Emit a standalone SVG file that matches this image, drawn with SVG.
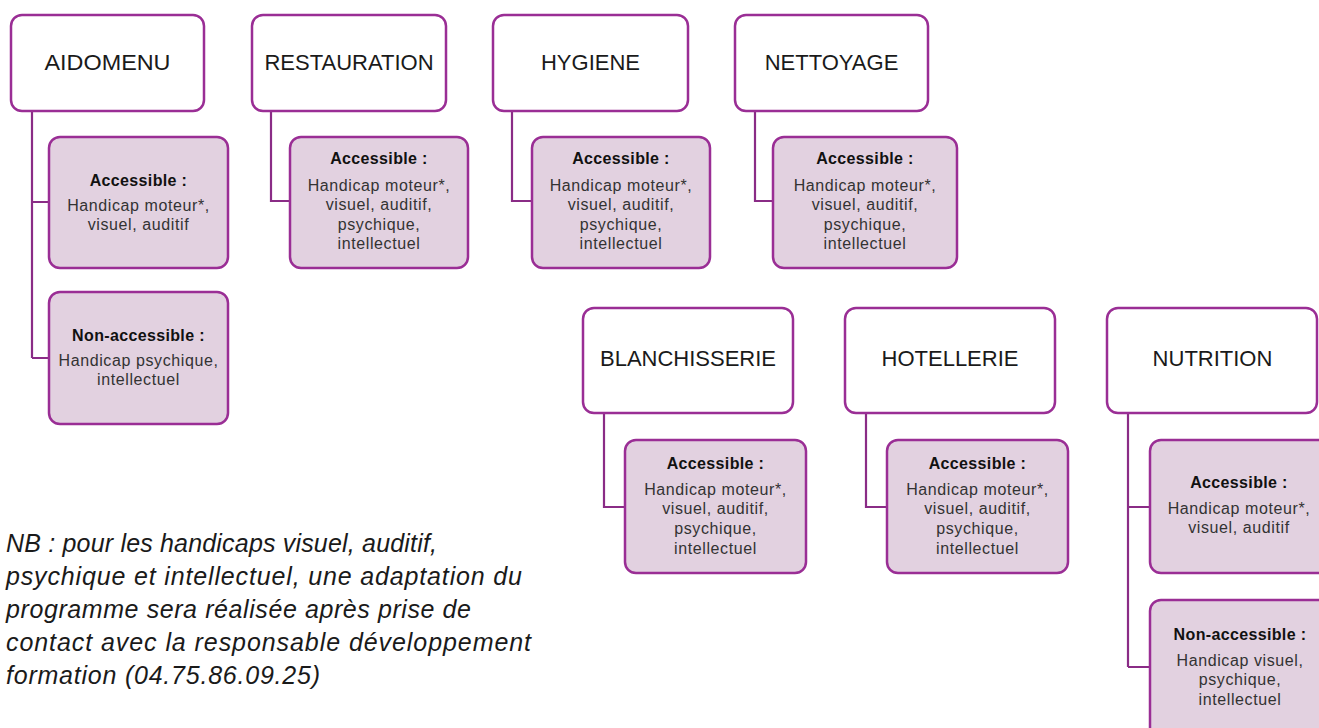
<svg xmlns="http://www.w3.org/2000/svg" width="1319" height="728" viewBox="0 0 1319 728">
<style>
.hdr{fill:#ffffff;stroke:#9a2e95;stroke-width:2.5}
.sub{fill:#e2d1e0;stroke:#9a2e95;stroke-width:2.5}
.conn{fill:none;stroke:#8a2c86;stroke-width:2.2}
.ht{font-family:"Liberation Sans",Arial,sans-serif;font-size:22px;fill:#1a1a1a;text-anchor:middle}
.tt{font-family:"Liberation Sans",Arial,sans-serif;font-size:16px;letter-spacing:0.35px;font-weight:bold;fill:#111;text-anchor:middle}
.bt{font-family:"Liberation Sans",Arial,sans-serif;font-size:16px;letter-spacing:0.6px;fill:#333;text-anchor:middle}
.nb{font-family:"Liberation Sans",Arial,sans-serif;font-size:25px;font-style:italic;fill:#1a1a1a}
</style>
<rect width="1319" height="728" fill="#ffffff"/>
<g id="connectors">
<path class="conn" d="M32 111 V358 M32 202 H49 M32 358 H49"/>
<path class="conn" d="M271 111 V201 H290"/>
<path class="conn" d="M512 111 V201 H532"/>
<path class="conn" d="M755 111 V201 H773"/>
<path class="conn" d="M604 413 V507 H625"/>
<path class="conn" d="M866 413 V507 H887"/>
<path class="conn" d="M1128 413 V667 M1128 507 H1150 M1128 667 H1150"/>
</g>
<g id="aidomenu"><rect class="hdr" x="11" y="15" width="193" height="96" rx="11"/><text class="ht" x="107.5" y="70" textLength="126" lengthAdjust="spacingAndGlyphs">AIDOMENU</text></g>
<g id="aidomenu-acc"><rect class="sub" x="49" y="137" width="179" height="131" rx="11"/><text class="tt" x="138.5" y="186">Accessible :</text><text class="bt" x="138.5" y="211">Handicap moteur*,</text><text class="bt" x="138.5" y="230">visuel, auditif</text></g>
<g id="aidomenu-non"><rect class="sub" x="49" y="292" width="179" height="132" rx="11"/><text class="tt" x="138.5" y="341">Non-accessible :</text><text class="bt" x="138.5" y="366">Handicap psychique,</text><text class="bt" x="138.5" y="385">intellectuel</text></g>
<g id="restauration"><rect class="hdr" x="252" y="15" width="194" height="96" rx="11"/><text class="ht" x="349" y="70">RESTAURATION</text></g>
<g id="restauration-acc"><rect class="sub" x="290" y="137" width="178" height="131" rx="11"/><text class="tt" x="379" y="164">Accessible :</text><text class="bt" x="379" y="191">Handicap moteur*,</text><text class="bt" x="379" y="210">visuel, auditif,</text><text class="bt" x="379" y="230">psychique,</text><text class="bt" x="379" y="249">intellectuel</text></g>
<g id="hygiene"><rect class="hdr" x="493" y="15" width="195" height="96" rx="11"/><text class="ht" x="590.5" y="70">HYGIENE</text></g>
<g id="hygiene-acc"><rect class="sub" x="532" y="137" width="178" height="131" rx="11"/><text class="tt" x="621" y="164">Accessible :</text><text class="bt" x="621" y="191">Handicap moteur*,</text><text class="bt" x="621" y="210">visuel, auditif,</text><text class="bt" x="621" y="230">psychique,</text><text class="bt" x="621" y="249">intellectuel</text></g>
<g id="nettoyage"><rect class="hdr" x="735" y="15" width="193" height="96" rx="11"/><text class="ht" x="831.5" y="70">NETTOYAGE</text></g>
<g id="nettoyage-acc"><rect class="sub" x="773" y="137" width="184" height="131" rx="11"/><text class="tt" x="865" y="164">Accessible :</text><text class="bt" x="865" y="191">Handicap moteur*,</text><text class="bt" x="865" y="210">visuel, auditif,</text><text class="bt" x="865" y="230">psychique,</text><text class="bt" x="865" y="249">intellectuel</text></g>
<g id="blanchisserie"><rect class="hdr" x="583" y="308" width="210" height="105" rx="11"/><text class="ht" x="688" y="366">BLANCHISSERIE</text></g>
<g id="blanchisserie-acc"><rect class="sub" x="625" y="440" width="181" height="133" rx="11"/><text class="tt" x="715.5" y="469">Accessible :</text><text class="bt" x="715.5" y="495">Handicap moteur*,</text><text class="bt" x="715.5" y="514">visuel, auditif,</text><text class="bt" x="715.5" y="534">psychique,</text><text class="bt" x="715.5" y="554">intellectuel</text></g>
<g id="hotellerie"><rect class="hdr" x="845" y="308" width="210" height="105" rx="11"/><text class="ht" x="950" y="366">HOTELLERIE</text></g>
<g id="hotellerie-acc"><rect class="sub" x="887" y="440" width="181" height="133" rx="11"/><text class="tt" x="977.5" y="469">Accessible :</text><text class="bt" x="977.5" y="495">Handicap moteur*,</text><text class="bt" x="977.5" y="514">visuel, auditif,</text><text class="bt" x="977.5" y="534">psychique,</text><text class="bt" x="977.5" y="554">intellectuel</text></g>
<g id="nutrition"><rect class="hdr" x="1107" y="308" width="210" height="105" rx="11"/><text class="ht" x="1212.5" y="366">NUTRITION</text></g>
<g id="nutrition-acc"><rect class="sub" x="1150" y="440" width="185" height="133" rx="11"/><text class="tt" x="1239" y="488">Accessible :</text><text class="bt" x="1239" y="514">Handicap moteur*,</text><text class="bt" x="1239" y="533">visuel, auditif</text></g>
<g id="nutrition-non"><rect class="sub" x="1150" y="600" width="185" height="140" rx="11"/><text class="tt" x="1240" y="640">Non-accessible :</text><text class="bt" x="1240" y="666">Handicap visuel,</text><text class="bt" x="1240" y="685">psychique,</text><text class="bt" x="1240" y="705">intellectuel</text></g>
<g id="note">
<text class="nb" x="6" y="552" textLength="431" lengthAdjust="spacing">NB : pour les handicaps visuel, auditif,</text>
<text class="nb" x="6" y="585" textLength="516" lengthAdjust="spacing">psychique et intellectuel, une adaptation du</text>
<text class="nb" x="6" y="618" textLength="465" lengthAdjust="spacing">programme sera réalisée après prise de</text>
<text class="nb" x="6" y="651" textLength="525" lengthAdjust="spacing">contact avec la responsable développement</text>
<text class="nb" x="6" y="684" textLength="314" lengthAdjust="spacing">formation (04.75.86.09.25)</text>
</g>
</svg>
